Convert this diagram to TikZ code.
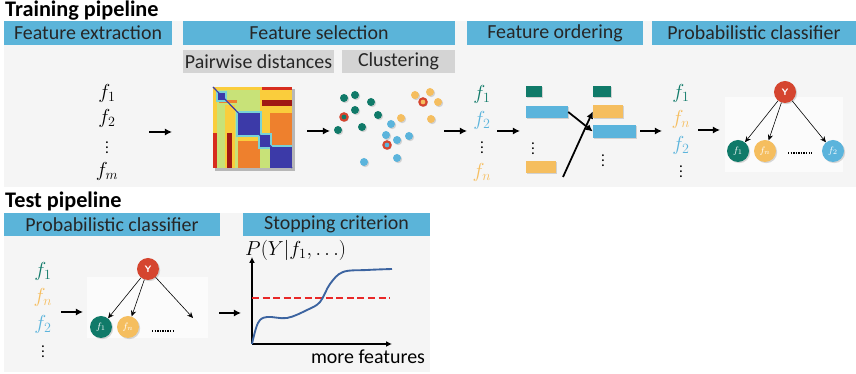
\documentclass[tikz,border=0pt]{standalone}
\usepackage{fontspec}
\setmainfont{Carlito}
\usetikzlibrary{arrows.meta,shadows}
\definecolor{hdrblue}{RGB}{91,180,217}
\definecolor{panelgray}{RGB}{245,245,245}
\definecolor{netback}{RGB}{251,251,251}
\definecolor{subgray}{RGB}{212,212,212}
\definecolor{fteal}{RGB}{16,122,105}
\definecolor{fblue}{RGB}{91,180,220}
\definecolor{forange}{RGB}{245,190,95}
\definecolor{ringred}{RGB}{213,69,47}
\definecolor{curveblue}{RGB}{60,100,160}
\definecolor{dashred}{RGB}{232,40,40}
\definecolor{hmblue}{RGB}{60,58,168}
\definecolor{hmgreen}{RGB}{200,226,120}
\definecolor{hmorange}{RGB}{238,128,45}
\definecolor{hmyellow}{RGB}{250,205,60}
\definecolor{hmred}{RGB}{215,45,30}
\definecolor{hmdark}{RGB}{160,25,20}
\definecolor{hmcyan}{RGB}{120,210,215}
\tikzset{
  hdr/.style={fill=hdrblue, inner sep=0pt, minimum height=0.72cm, font=\fontsize{17}{19}\selectfont, text=black!85},
  subhdr/.style={fill=subgray, inner sep=0pt, minimum height=0.69cm, font=\fontsize{17}{19}\selectfont, text=black!85},
  title/.style={font=\fontsize{19}{21}\selectfont\bfseries, inner sep=0pt},
  fitem/.style={font=\fontsize{18}{20}\selectfont, inner sep=0pt},
  vdot/.style={font=\fontsize{13}{15}\selectfont, inner sep=0pt},
  stagearrow/.style={line width=1.6pt, -{Latex[length=6pt,width=6pt]}},
  swaparrow/.style={line width=1.5pt, -{Latex[length=6pt,width=6pt]}},
  netarrow/.style={line width=0.5pt, -{Stealth[length=5pt,width=4.5pt]}},
  bnode/.style={circle, inner sep=0pt, minimum size=0.66cm, text=white, font=\footnotesize,
    drop shadow={shadow xshift=1pt, shadow yshift=-1pt, opacity=0.3}},
  bar/.style={inner sep=0pt, drop shadow={shadow xshift=1.2pt, shadow yshift=-1.2pt, opacity=0.3}},
  dot/.style={circle, inner sep=0pt, minimum size=0.24cm,
    drop shadow={shadow xshift=1pt, shadow yshift=-1pt, opacity=0.3}},
  ringdot/.style={dot, draw=ringred, line width=1.8pt, minimum size=0.22cm},
}
\begin{document}
\begin{tikzpicture}[x=0.03cm, y=-0.03cm]
	\useasboundingbox (0,0) rectangle (856,374);
	% panels
	\fill [panelgray] (4,21) rectangle (856,187);
	\fill [panelgray] (4,213) rectangle (430,372);
	\fill [netback] (725,97) rectangle (843,172);
	\fill [netback] (87,277) rectangle (208,338);
	\node [title, anchor=base west] (ttrain) at (5,17) {Training pipeline};
	\node [title, anchor=base west] (ttest) at (5,208) {Test pipeline};
	% headers
	\node [hdr, minimum width=5.04cm] (hextr) at (88,33) {Feature extraction};
	\node [hdr, minimum width=8.16cm] (hsel) at (319,33) {Feature selection};
	\node [hdr, minimum width=5.28cm] (hord) at (555,33) {Feature ordering};
	\node [hdr, minimum width=6.12cm] (hclf) at (754,33) {Probabilistic classifier};
	\node [subhdr, minimum width=4.53cm] (sdist) at (258.5,61.5) {Pairwise distances};
	\node [subhdr, minimum width=3.39cm] (sclus) at (398.5,61.5) {Clustering};
	\node [hdr, minimum width=6.48cm, minimum height=0.69cm] (hclf2) at (112,224.5) {Probabilistic classifier};
	\node [hdr, minimum width=5.61cm, minimum height=0.69cm] (hstop) at (336.5,224.5) {Stopping criterion};

	% feature extraction
	\node [fitem] (e1) at (107,93) {$f_1$};
	\node [fitem] (e2) at (107,118) {$f_2$};
	\node [vdot] (edots) at (107,144) {$\vdots$};
	\node [fitem] (em) at (107,171) {$f_m$};
	\coordinate (a1s) at (149,132);
	\coordinate (a1e) at (172,132);
	\draw [stagearrow] (a1s) -- (a1e);

	% pairwise distances
	\fill [black, opacity=0.25] (215,89) rectangle (295,171);
	\fill [hmgreen] (213,87) rectangle (292,168);
	\fill [hmyellow] (260,87) rectangle (292,113);
	\fill [hmred] (262,87) rectangle (292,90);
	\fill [hmdark] (262,100) rectangle (292,106);
	\fill [hmyellow] (260,113) rectangle (270,135);
	\fill [hmorange] (270,113) rectangle (292,147);
	\fill [hmyellow] (238,136) rectangle (260,141);
	\fill [hmorange] (238,141) rectangle (260,168);
	\fill [hmyellow] (217,87) rectangle (260,90);
	\fill [hmyellow] (213,87) rectangle (217,133);
	\fill [hmred] (213,133) rectangle (217,168);
	\fill [hmyellow] (225,105) rectangle (235,168);
	\fill [hmdark] (227,133) rectangle (232,168);
	\fill [hmorange] (219,100) rectangle (237,103);
	\fill [hmcyan] (216,91) rectangle (227,102);
	\fill [hmcyan] (236,111) rectangle (262,137);
	\fill [hmcyan] (258,133) rectangle (272,149);
	\fill [hmcyan] (268,145) rectangle (292,149);
	\fill [hmblue] (218,93) rectangle (225,100);
	\fill [hmblue] (238,113) rectangle (260,135);
	\fill [hmblue] (260,135) rectangle (270,147);
	\fill [hmblue] (270,147) rectangle (292,168);
	\draw [hmblue, line width=1pt] (213,87) -- (292,168);
	\coordinate (a2s) at (307,131);
	\coordinate (a2e) at (330,131);
	\draw [stagearrow] (a2s) -- (a2e);

	% clustering
	\foreach \x/\y in {344/98, 355/95, 371/102, 355/110, 378/115, 362/127, 338/130}
		\node [dot, fill=fteal] at (\x,\y) {};
	\foreach \x/\y in {391/124, 386/135, 397/140, 409/136, 397/158, 364/162}
		\node [dot, fill=fblue] at (\x,\y) {};
	\foreach \x/\y in {415/95, 430/92, 438/102, 431/119, 401/118}
		\node [dot, fill=forange] at (\x,\y) {};
	\node [ringdot, fill=fteal] (cteal) at (344,117) {};
	\node [ringdot, fill=fblue] (cblue) at (387,145) {};
	\node [ringdot, fill=forange] (corange) at (423,102) {};
	\coordinate (a3s) at (444,131);
	\coordinate (a3e) at (467,131);
	\draw [stagearrow] (a3s) -- (a3e);

	% feature ordering
	\node [fitem, text=fteal] (o1) at (482,94) {$f_1$};
	\node [fitem, text=fblue] (o2) at (482,120) {$f_2$};
	\node [vdot] (odots) at (482,144) {$\vdots$};
	\node [fitem, text=forange] (on) at (482,172) {$f_n$};
	\coordinate (a4s) at (497,131);
	\coordinate (a4e) at (520,131);
	\draw [stagearrow] (a4s) -- (a4e);
	\node [bar, fill=fteal, minimum width=0.48cm, minimum height=0.33cm] (lteal) at (534,91.5) {};
	\node [bar, fill=fblue, minimum width=1.26cm, minimum height=0.36cm] (lblue) at (547,112) {};
	\node [vdot] (ldots) at (533,145) {$\vdots$};
	\node [bar, fill=forange, minimum width=0.9cm, minimum height=0.36cm] (lorange) at (541,167) {};
	\node [bar, fill=fteal, minimum width=0.54cm, minimum height=0.33cm] (rteal) at (602,91.5) {};
	\node [bar, fill=forange, minimum width=0.9cm, minimum height=0.39cm] (rorange) at (608,111.5) {};
	\node [bar, fill=fblue, minimum width=1.29cm, minimum height=0.39cm] (rblue) at (614.5,131.5) {};
	\node [vdot] (rdots) at (603,157) {$\vdots$};
	\coordinate (ostart) at (563,177);
	\draw [swaparrow] (lblue.east) -- (rblue.west);
	\draw [swaparrow] (ostart) -- (rorange.west);
	\coordinate (a5s) at (640,131);
	\coordinate (a5e) at (662,131);
	\draw [stagearrow] (a5s) -- (a5e);

	% probabilistic classifier (training)
	\node [fitem, text=fteal] (p1) at (681,93) {$f_1$};
	\node [fitem, text=forange] (pn) at (681,119) {$f_n$};
	\node [fitem, text=fblue] (p2) at (681,145) {$f_2$};
	\node [vdot] (pdots) at (681,168) {$\vdots$};
	\coordinate (a6s) at (698,130);
	\coordinate (a6e) at (720,130);
	\draw [stagearrow] (a6s) -- (a6e);
	\node [bnode, fill=ringred] (ty) at (785,92) {\textsf{\textbf{Y}}};
	\node [bnode, fill=fteal] (tf1) at (738,151) {$f_1$};
	\node [bnode, fill=forange] (tfn) at (765,151) {$f_n$};
	\node [bnode, fill=fblue] (tf2) at (833,151) {$f_2$};
	\coordinate (tdl) at (788,153);
	\coordinate (tdr) at (812,153);
	\draw [densely dotted, line width=1.2pt] (tdl) -- (tdr);
	\draw [netarrow] (ty) -- (tf1);
	\draw [netarrow] (ty) -- (tfn);
	\draw [netarrow] (ty) -- (tf2);

	% probabilistic classifier (test)
	\node [fitem, text=fteal] (q1) at (43,271) {$f_1$};
	\node [fitem, text=forange] (qn) at (43,297) {$f_n$};
	\node [fitem, text=fblue] (q2) at (43,324) {$f_2$};
	\node [vdot] (qdots) at (43,348) {$\vdots$};
	\coordinate (b1s) at (61,312);
	\coordinate (b1e) at (83,312);
	\draw [stagearrow] (b1s) -- (b1e);
	\node [bnode, fill=ringred] (sy) at (148,269) {\textsf{\textbf{Y}}};
	\node [bnode, fill=fteal] (sf1) at (101,327) {$f_1$};
	\node [bnode, fill=forange] (sfn) at (128,327) {$f_n$};
	\coordinate (sfree) at (193,318);
	\coordinate (sdl) at (152,331);
	\coordinate (sdr) at (175,331);
	\draw [densely dotted, line width=1.2pt] (sdl) -- (sdr);
	\draw [netarrow] (sy) -- (sf1);
	\draw [netarrow] (sy) -- (sfn);
	\draw [netarrow] (sy) -- (sfree);
	\coordinate (b2s) at (219,313);
	\coordinate (b2e) at (241,313);
	\draw [stagearrow] (b2s) -- (b2e);

	% stopping criterion
	\coordinate (origin) at (252,344);
	\coordinate (ytop) at (252,257);
	\coordinate (xend) at (392,344);
	\draw [line width=1.2pt, -{Latex[length=5pt,width=5pt]}] (origin) -- (ytop);
	\draw [line width=1.2pt, -{Latex[length=5pt,width=5pt]}] (origin) -- (xend);
	\node [fitem, font=\fontsize{17}{19}\selectfont, anchor=west] (ylab) at (245,250) {$P(Y|f_1,\ldots)$};
	\node [font=\fontsize{17}{19}\selectfont, inner sep=0pt] (xlab) at (368,357) {more features};
	\coordinate (thl) at (252,298);
	\coordinate (thr) at (390,298);
	\draw [dashred, dashed, dash pattern=on 6pt off 3pt, line width=1.6pt] (thl) -- (thr);
	\draw [curveblue, line width=1.6pt] plot [smooth, tension=0.6] coordinates {(252,344) (258,323) (267,317) (287,318) (307,310) (320,302) (330,284) (343,272) (367,270) (392,269)};
\end{tikzpicture}
\end{document}
